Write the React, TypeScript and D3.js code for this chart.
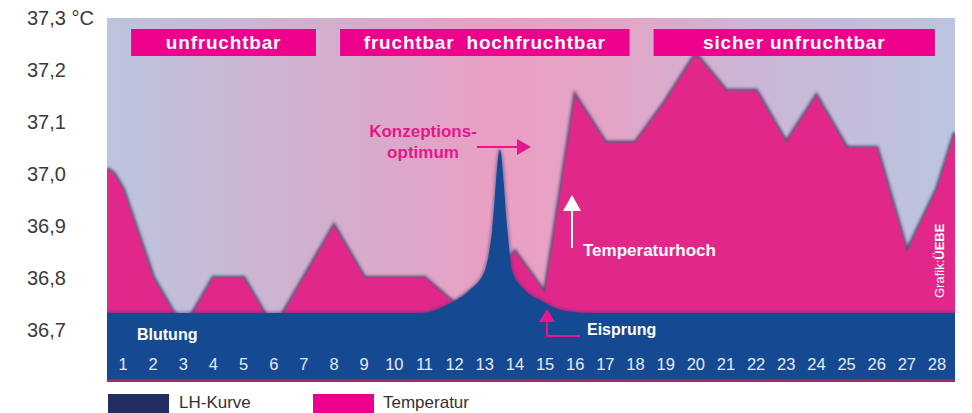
import React from 'react';
import * as d3 from 'd3';

// cycle days shown on the axis
const days = d3.range(1, 29);

// basal temperature (°C), incl. the values at the plot edges
const tempDays = [0.47, 0.7, 1, 2, 3, 4, 5, 6, 7, 8, 9, 10, 11, 12, 13, 14, 15, 16, 17, 18, 19, 20, 21, 22, 23, 24, 25, 26, 27, 28, 28.6];
const tempValues = [37.01, 37.0, 36.97, 36.8, 36.7, 36.8, 36.8, 36.7, 36.8, 36.9, 36.8, 36.8, 36.8, 36.75, 36.79, 36.85, 36.77, 37.15, 37.06, 37.06, 37.14, 37.23, 37.16, 37.16, 37.06, 37.15, 37.05, 37.05, 36.85, 36.97, 37.08];

// LH level (relative units 0-100)
const lhDays = [0.47, 10.85, 11.85, 12.5, 13.0, 13.25, 13.5, 13.75, 13.9, 14.33, 14.83, 15.5, 16.5, 28.6];
const lhValues = [0, 0, 6, 14, 26, 51, 100, 51, 26, 14, 8, 2, 0, 0];

const yTicks = [37.3, 37.2, 37.1, 37.0, 36.9, 36.8, 36.7];

const phaseLabels = ['unfruchtbar', 'fruchtbar  hochfruchtbar', 'sicher unfruchtbar'];
const phaseStart = [1.27, 8.2, 18.6];
const phaseEnd = [7.4, 17.8, 27.93];

const W = 972;
const H = 413;
const plotL = 107;
const plotR = 955;
const plotT = 18;
const bandTop = 313;
const bandBottom = 380;

const FONT = '"Liberation Sans", Arial, Helvetica, sans-serif';
const MAGENTA = '#ec008c';
const TEMP_FILL = '#e2278b';
const LH_BLUE = '#154a92';

const App: React.FC = () => {
  const x = d3.scaleLinear().domain([1, 28]).range([123, 937]);
  const y = d3.scaleLinear().domain([36.7, 37.3]).range([330, 18]);
  const lhY = d3.scaleLinear().domain([0, 100]).range([bandTop, 150]);

  const tempPts = tempDays.map((d, i) => [d, tempValues[i]] as [number, number]);
  const tempArea = d3.area<[number, number]>()
    .x(d => x(d[0]))
    .y0(bandBottom + 2)
    .y1(d => y(d[1]));
  const tempLine = d3.line<[number, number]>()
    .x(d => x(d[0]))
    .y(d => y(d[1]));

  const lhPts = lhDays.map((d, i) => [d, lhValues[i]] as [number, number]);
  const lhArea = d3.area<[number, number]>()
    .x(d => x(d[0]))
    .y0(bandBottom)
    .y1(d => lhY(d[1]))
    .curve(d3.curveMonotoneX);
  const lhLine = d3.line<[number, number]>()
    .x(d => x(d[0]))
    .y(d => lhY(d[1]))
    .curve(d3.curveMonotoneX);

  const fmt = (v: number) => v.toFixed(1).replace('.', ',');

  return (
    <svg width={W} height={H} style={{ position: 'absolute', left: 0, top: 0, display: 'block' }} fontFamily={FONT}>
      <defs>
        <linearGradient id="bg" x1="0" x2="1" y1="0" y2="0">
          <stop offset="0" stopColor="#bcc4de" />
          <stop offset="0.28" stopColor="#d5adcc" />
          <stop offset="0.46" stopColor="#e99fc3" />
          <stop offset="0.6" stopColor="#e3a5c7" />
          <stop offset="0.75" stopColor="#cdb5d5" />
          <stop offset="1" stopColor="#bbc5df" />
        </linearGradient>
        <clipPath id="plot">
          <rect x={plotL} y={plotT} width={plotR - plotL} height={bandBottom + 2 - plotT} />
        </clipPath>
        <filter id="soft" x="-5%" y="-5%" width="110%" height="110%">
          <feGaussianBlur stdDeviation="1.6" />
        </filter>
      </defs>

      <rect x={plotL} y={plotT} width={plotR - plotL} height={bandBottom + 2 - plotT} fill="url(#bg)" />

      <g clipPath="url(#plot)">
        <path d={tempLine(tempPts) || ''} fill="none" stroke="#44345e" strokeWidth={4.5} strokeOpacity={0.8} filter="url(#soft)" />
        <path d={tempArea(tempPts) || ''} fill={TEMP_FILL} />
        <path d={lhLine(lhPts) || ''} fill="none" stroke="#3a3a6a" strokeWidth={3} strokeOpacity={0.5} filter="url(#soft)" />
        <path d={lhArea(lhPts) || ''} fill={LH_BLUE} />
        <rect x={plotL} y={bandBottom - 1} width={plotR - plotL} height={3} fill="#9b2c6c" />
      </g>

      {/* phase headers */}
      {phaseLabels.map((p, i) => (
        <g key={p}>
          <rect x={x(phaseStart[i])} y={29} width={x(phaseEnd[i]) - x(phaseStart[i])} height={27} fill={MAGENTA} />
          <text x={(x(phaseStart[i]) + x(phaseEnd[i])) / 2} y={49} textAnchor="middle" fill="#fff" fontSize={19} fontWeight="bold" letterSpacing={0.8} style={{ whiteSpace: 'pre' }}>{p}</text>
        </g>
      ))}

      {/* y axis labels */}
      {yTicks.map(t => (
        <text key={t} x={27} y={y(t)} dy="0.36em" fill="#3a3a3a" fontSize={20}>
          {fmt(t)}{t === 37.3 ? ' °C' : ''}
        </text>
      ))}

      {/* day labels */}
      {days.map(d => (
        <text key={d} x={x(d)} y={370} textAnchor="middle" fill="#e8eaf4" fontSize={16.5}>{d}</text>
      ))}

      <text x={137} y={340} fill="#fff" fontSize={16} fontWeight="bold">Blutung</text>

      {/* Konzeptionsoptimum */}
      <text x={423} y={137} textAnchor="middle" fill="#e5178a" fontSize={17} fontWeight="bold">Konzeptions-</text>
      <text x={423} y={158} textAnchor="middle" fill="#e5178a" fontSize={17} fontWeight="bold">optimum</text>
      <line x1={477} x2={518} y1={147} y2={147} stroke="#e5178a" strokeWidth={2} />
      <path d="M517,139 L531,147 L517,155 Z" fill="#e5178a" />

      {/* Temperaturhoch */}
      <line x1={572} x2={572} y1={248} y2={209} stroke="#fff" strokeWidth={2} />
      <path d="M572,195 L581,211 L563,211 Z" fill="#fff" />
      <text x={583} y={256} fill="#fff" fontSize={17} fontWeight="bold">Temperaturhoch</text>

      {/* Eisprung */}
      <path d="M547,309 L555,322 L539,322 Z" fill="#e5178a" />
      <path d="M547,321 V336 H580" fill="none" stroke="#e5178a" strokeWidth={2} />
      <text x={587} y={335} fill="#fff" fontSize={16} fontWeight="bold">Eisprung</text>

      {/* credit */}
      <text transform="translate(944,298) rotate(-90)" fill="#fff" fontSize={13}>
        Grafik:<tspan fontWeight="bold">ÜEBE</tspan>
      </text>

      {/* legend */}
      <rect x={108} y={394} width={61} height={19} fill="#222e60" />
      <text x={179} y={408} fill="#333" fontSize={17}>LH-Kurve</text>
      <rect x={313} y={394} width={61} height={19} fill={MAGENTA} />
      <text x={383} y={408} fill="#333" fontSize={17}>Temperatur</text>
    </svg>
  );
};

export default App;
